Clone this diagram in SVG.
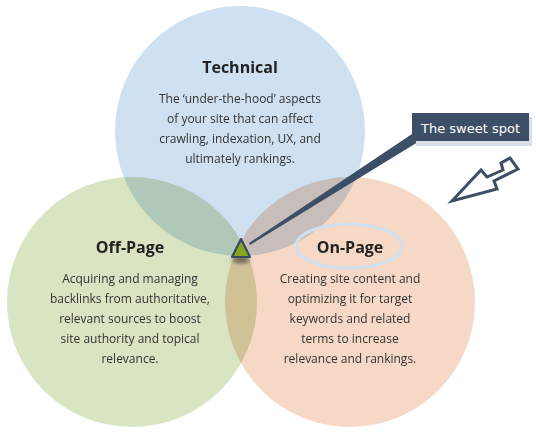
<svg xmlns="http://www.w3.org/2000/svg" width="536" height="433" viewBox="0 0 536 433">
<defs>
<style>
.title{font-family:"Open Sans","DejaVu Sans",sans-serif;font-weight:bold;font-size:16px;fill:#222;text-anchor:middle}
.body{font-family:"Open Sans","DejaVu Sans",sans-serif;font-size:12px;fill:#333;text-anchor:middle}
.circ{mix-blend-mode:multiply}
.dark{fill:#3d4f66}
</style>
<filter id="blur" x="-50%" y="-50%" width="200%" height="200%"><feGaussianBlur stdDeviation="2"/></filter>
</defs>
<rect width="536" height="433" fill="#ffffff"/>
<g style="isolation:isolate">
<g id="technical-circle"><circle class="circ" cx="240" cy="131" r="125" fill="#cfe0f0"/></g>
<g id="offpage-circle"><circle class="circ" cx="132" cy="302" r="125" fill="#d9e4c3"/></g>
<g id="onpage-circle"><circle class="circ" cx="350" cy="302" r="125" fill="#f5d8c6"/></g>
</g>
<g id="technical">
<text class="title" x="240" y="73">Technical</text>
<text class="body" x="240" y="103">The ‘under-the-hood’ aspects</text>
<text class="body" x="240" y="123">of your site that can affect</text>
<text class="body" x="240" y="143">crawling, indexation, UX, and</text>
<text class="body" x="240" y="163">ultimately rankings.</text>
</g>
<g id="offpage">
<text class="title" x="130" y="253">Off-Page</text>
<text class="body" x="130" y="283">Acquiring and managing</text>
<text class="body" x="130" y="303">backlinks from authoritative,</text>
<text class="body" x="130" y="323">relevant sources to boost</text>
<text class="body" x="130" y="343">site authority and topical</text>
<text class="body" x="130" y="363">relevance.</text>
</g>
<g id="onpage">
<ellipse cx="349" cy="246" rx="53" ry="22" fill="none" stroke="#cfe0f0" stroke-width="3"/>
<text class="title" x="350" y="253">On-Page</text>
<text class="body" x="350" y="283">Creating site content and</text>
<text class="body" x="350" y="303">optimizing it for target</text>
<text class="body" x="350" y="323">keywords and related</text>
<text class="body" x="350" y="343">terms to increase</text>
<text class="body" x="350" y="363">relevance and rankings.</text>
</g>
<g id="connectors">
<polygon class="dark" points="249,243 412,134 418,142 250,245"/>
<polygon points="452,201 481,170 487,177 503,170 501,163 510,158 518,169 494,181 497,189" fill="#ffffff" stroke="#3d4f66" stroke-width="3" stroke-linejoin="miter"/>
</g>
<g id="sweet-spot-marker">
<ellipse cx="241" cy="260" rx="9" ry="3" fill="#333" opacity="0.7" filter="url(#blur)"/>
<polygon points="241,239 232,257 250,257" fill="#86a71b" stroke="#3b4a5e" stroke-width="2.2" stroke-linejoin="round"/>
</g>
<g id="sweet-spot-label">
<rect x="416" y="117" width="116" height="29" fill="#d8dde6"/>
<rect x="412" y="113" width="117" height="28" class="dark"/>
<text x="470.5" y="133" font-family="DejaVu Sans, sans-serif" font-size="13px" fill="#ffffff" text-anchor="middle">The sweet spot</text>
</g>
</svg>
